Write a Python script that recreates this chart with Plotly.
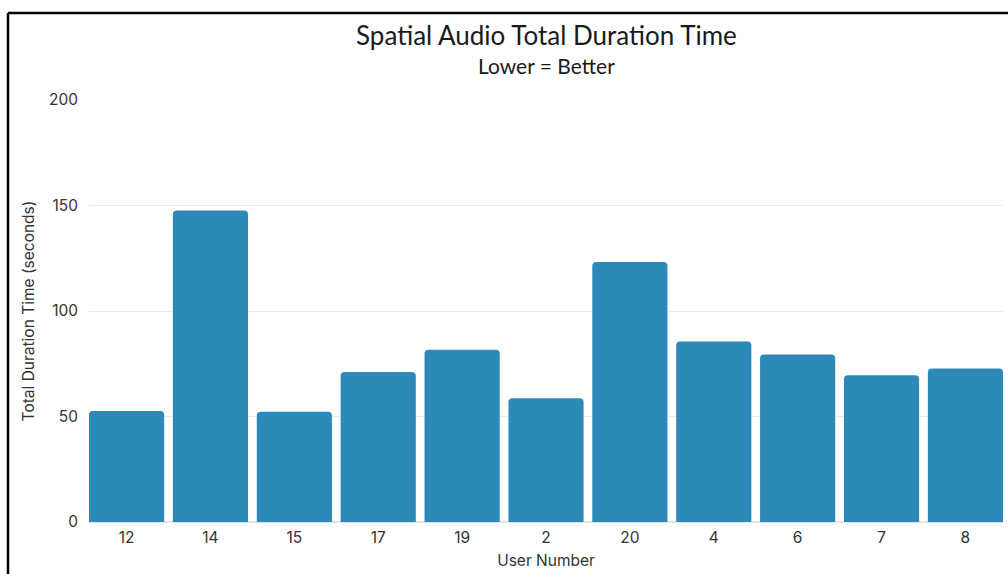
import plotly.graph_objects as go

# User IDs along the x axis and their total task duration in seconds
users = ["12", "14", "15", "17", "19", "2", "20", "4", "6", "7", "8"]
durations = [52.6, 147.6, 52.2, 71.1, 81.6, 58.7, 123.2, 85.6, 79.4, 69.6, 72.7]

y_ticks = [0, 50, 100, 150, 200]

W, H = 1008, 574
L, R, T, B = 89, 5, 99.5, 52.3
pw, ph = W - L - R, H - T - B
GAP = 0.104

fig = go.Figure(
    go.Bar(
        x=users,
        y=durations,
        marker=dict(color="#2d8ab8", cornerradius=4, line=dict(width=0)),
    )
)

fy = lambda py: 1 - (py - T) / ph
fx = lambda px: (px - L) / pw

fig.update_layout(
    width=W,
    height=H,
    margin=dict(l=L, r=R, t=T, b=B),
    paper_bgcolor="white",
    plot_bgcolor="white",
    bargap=GAP,
    showlegend=False,
    font=dict(family="Inter", size=15, color="#333333"),
    xaxis=dict(
        type="category",
        range=[-0.5 + GAP / 2, len(users) - 0.5 - GAP / 2],
        showgrid=False,
        showline=False,
        ticks="",
        ticklabelstandoff=4,
        title=dict(text="User Number", standoff=9, font=dict(size=15.5)),
        tickfont=dict(size=15.5),
    ),
    yaxis=dict(
        range=[0, 200],
        tickvals=y_ticks,
        showgrid=True,
        gridcolor="#ececec",
        gridwidth=1,
        zeroline=True,
        zerolinecolor="#e4e4e4",
        zerolinewidth=2,
        showline=False,
        ticks="",
        ticklabelstandoff=10,
        tickfont=dict(size=15.5),
        title=dict(text="Total Duration Time (seconds)", standoff=10, font=dict(size=15.5)),
    ),
)

# Title and subtitle centred over the plot area
fig.add_annotation(text="Spatial Audio Total Duration Time", xref="paper", yref="paper",
                   x=0.5, y=fy(34), xanchor="center", yanchor="middle", showarrow=False,
                   font=dict(family="Lato", size=26, color="#1a1a1a"))
fig.add_annotation(text="Lower = Better", xref="paper", yref="paper",
                   x=0.5, y=fy(64.5), xanchor="center", yanchor="middle", showarrow=False,
                   font=dict(family="Lato", size=21, color="#1a1a1a"))

# Frame lines along the top and left edges of the figure
fig.add_shape(type="line", xref="paper", yref="paper",
              x0=fx(8), x1=fx(W + 5), y0=fy(12.5), y1=fy(12.5),
              line=dict(color="black", width=2.5))
fig.add_shape(type="line", xref="paper", yref="paper",
              x0=fx(8), x1=fx(8), y0=fy(12.5), y1=fy(H + 5),
              line=dict(color="black", width=2.5))

fig.write_html("out.html")
